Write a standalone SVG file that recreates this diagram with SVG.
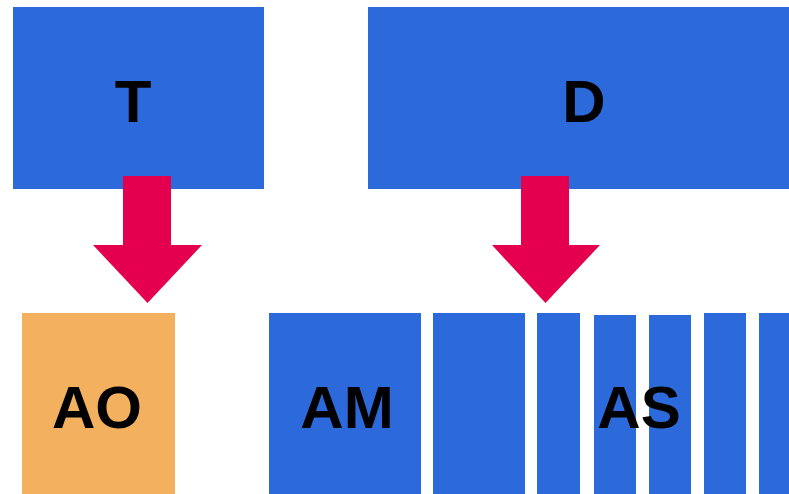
<svg xmlns="http://www.w3.org/2000/svg" width="789" height="494" viewBox="0 0 789 494">
<style>
.b{fill:#2c6adb}
.o{fill:#f3b05e}
.a{fill:#e4004f}
.t{font-family:"Liberation Sans",Arial,sans-serif;font-weight:bold;font-size:60px;fill:#000;text-anchor:middle}
</style>
<rect width="789" height="494" fill="#fff"/>
<g id="T"><rect class="b" x="13" y="7" width="251" height="182"/><text class="t" x="133" y="122">T</text></g>
<g id="D"><rect class="b" x="368" y="7" width="421" height="182"/><text class="t" x="584" y="122">D</text></g>
<g id="AO"><rect class="o" x="22" y="313" width="153" height="181"/><text class="t" x="97" y="428">AO</text></g>
<g id="AM"><rect class="b" x="269" y="313" width="152" height="181"/><text class="t" x="347" y="428">AM</text></g>
<g id="AS">
<rect class="b" x="433" y="313" width="92" height="181"/>
<rect class="b" x="537" y="313" width="43" height="181"/>
<rect class="b" x="594" y="315" width="42" height="179"/>
<rect class="b" x="649" y="315" width="42" height="179"/>
<rect class="b" x="704" y="313" width="42" height="181"/>
<rect class="b" x="759" y="313" width="30" height="181"/>
<text class="t" x="639" y="428">AS</text>
</g>
<g id="connectors">
<polygon class="a" points="123,176 171,176 171,245 202,245 147.5,303 93,245 123,245"/>
<polygon class="a" points="521,176 569,176 569,245 600,245 545.5,303 492,245 521,245"/>
</g>
</svg>
